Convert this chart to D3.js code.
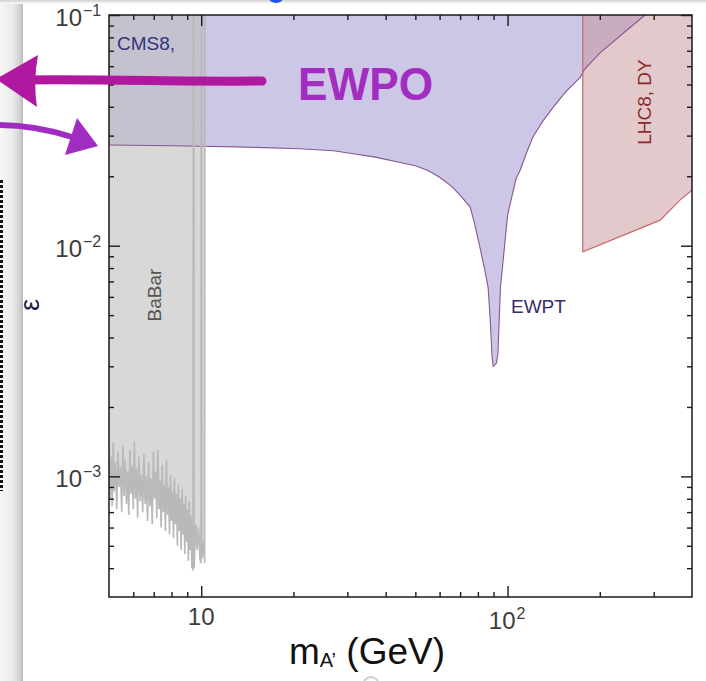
<!DOCTYPE html>
<html>
<head>
<meta charset="utf-8">
<script src="https://cdn.jsdelivr.net/npm/d3@7"></script>
<style>
	body { margin: 0; background: #fff; }
	svg { display: block; font-family: "Liberation Sans", Arial, sans-serif; }
</style>
</head>
<body>
<div id="chart"></div>
<script>

///////////////////////////////////////////////////////////////////////
// data: [ mass (GeV), epsilon ]

const xDomain = [ 5, 400 ];
const yDomain = [ 3e-4, 0.1 ];

const xMajor = [ 10, 100 ];
const xMinor = [ 6, 7, 8, 9, 20, 30, 40, 50, 60, 70, 80, 90, 200, 300 ];
const yMajor = [ 1e-3, 1e-2, 1e-1 ];
const yMinor = [ 4e-4, 5e-4, 6e-4, 7e-4, 8e-4, 9e-4,
	2e-3, 3e-3, 4e-3, 5e-3, 6e-3, 7e-3, 8e-3, 9e-3,
	2e-2, 3e-2, 4e-2, 5e-2, 6e-2, 7e-2, 8e-2, 9e-2 ];
const xTickLabels = [ [ "10", "" ], [ "10", "2" ] ];
const yTickLabels = [ [ "10", "\u22123" ], [ "10", "\u22122" ], [ "10", "\u22121" ] ];

// EWPT: lower edge of the excluded (purple) region
const ewpt = [
	[ 5.0, 0.0273 ], [ 8, 0.0271 ], [ 10, 0.0270 ], [ 13, 0.0268 ], [ 16, 0.0266 ],
	[ 21, 0.0263 ], [ 27, 0.0258 ], [ 31, 0.0251 ], [ 37, 0.0242 ], [ 45, 0.0229 ],
	[ 50, 0.0222 ], [ 55, 0.0212 ], [ 60, 0.0198 ], [ 66, 0.0180 ], [ 71, 0.0162 ],
	[ 75.5, 0.0147 ], [ 78, 0.0125 ], [ 81, 0.0100 ], [ 84, 0.0080 ], [ 86.4, 0.0066 ],
	[ 88, 0.0045 ], [ 89, 0.0033 ], [ 89.8, 0.0030 ], [ 92, 0.0031 ], [ 93, 0.0034 ],
	[ 94.8, 0.0066 ], [ 98.2, 0.0106 ], [ 100, 0.0135 ], [ 102, 0.0152 ], [ 106.6, 0.0195 ],
	[ 110, 0.0213 ], [ 116, 0.0258 ], [ 121, 0.0296 ], [ 130, 0.0345 ], [ 141, 0.0399 ],
	[ 155, 0.0465 ], [ 173, 0.0538 ], [ 178, 0.0580 ], [ 200, 0.0684 ], [ 240, 0.0840 ],
	[ 281, 0.1 ]
];

// LHC8 Drell-Yan: lower edge of the excluded (pink) region
const lhcDY = [
	[ 176, 0.1 ], [ 176, 0.0094 ], [ 315, 0.0129 ], [ 366, 0.0158 ], [ 400, 0.0174 ]
];

// BaBar: lower edge of the excluded (grey) region, with the Upsilon gaps
const babar = [
	[ 5.00, 1.30e-3 ], [ 5.04, 0.80e-3 ], [ 5.08, 1.22e-3 ], [ 5.12, 0.74e-3 ], [ 5.16, 1.40e-3 ],
	[ 5.20, 0.86e-3 ], [ 5.25, 1.15e-3 ], [ 5.30, 0.72e-3 ], [ 5.35, 1.28e-3 ], [ 5.40, 0.90e-3 ],
	[ 5.45, 1.10e-3 ], [ 5.50, 0.70e-3 ], [ 5.55, 1.36e-3 ], [ 5.60, 0.82e-3 ], [ 5.65, 1.18e-3 ],
	[ 5.70, 0.76e-3 ], [ 5.75, 1.05e-3 ], [ 5.80, 0.68e-3 ], [ 5.85, 1.30e-3 ], [ 5.90, 0.84e-3 ],
	[ 5.95, 1.12e-3 ], [ 6.00, 0.72e-3 ], [ 6.05, 1.42e-3 ], [ 6.10, 0.80e-3 ], [ 6.15, 1.08e-3 ],
	[ 6.20, 0.66e-3 ], [ 6.26, 1.22e-3 ], [ 6.32, 0.78e-3 ], [ 6.38, 1.02e-3 ], [ 6.44, 0.70e-3 ],
	[ 6.50, 1.25e-3 ], [ 6.56, 0.76e-3 ], [ 6.62, 1.00e-3 ], [ 6.68, 0.64e-3 ], [ 6.74, 1.15e-3 ],
	[ 6.80, 0.74e-3 ], [ 6.86, 0.98e-3 ], [ 6.92, 0.62e-3 ], [ 6.98, 1.28e-3 ], [ 7.04, 0.80e-3 ],
	[ 7.10, 1.05e-3 ], [ 7.16, 0.66e-3 ], [ 7.22, 1.30e-3 ], [ 7.28, 0.72e-3 ], [ 7.34, 0.96e-3 ],
	[ 7.40, 0.60e-3 ], [ 7.46, 1.12e-3 ], [ 7.52, 0.70e-3 ], [ 7.58, 0.92e-3 ], [ 7.64, 0.58e-3 ],
	[ 7.70, 1.18e-3 ], [ 7.76, 0.68e-3 ], [ 7.82, 0.90e-3 ], [ 7.88, 0.56e-3 ], [ 7.94, 1.02e-3 ],
	[ 8.00, 0.64e-3 ], [ 8.06, 0.86e-3 ], [ 8.12, 0.54e-3 ], [ 8.18, 0.98e-3 ], [ 8.24, 0.62e-3 ],
	[ 8.30, 0.84e-3 ], [ 8.36, 0.50e-3 ], [ 8.42, 0.92e-3 ], [ 8.48, 0.58e-3 ], [ 8.54, 0.80e-3 ],
	[ 8.60, 0.48e-3 ], [ 8.66, 0.88e-3 ], [ 8.72, 0.56e-3 ], [ 8.78, 0.76e-3 ], [ 8.84, 0.46e-3 ],
	[ 8.90, 0.82e-3 ], [ 8.96, 0.52e-3 ], [ 9.02, 0.72e-3 ], [ 9.08, 0.43e-3 ], [ 9.14, 0.78e-3 ],
	[ 9.20, 0.48e-3 ], [ 9.26, 0.68e-3 ], [ 9.32, 0.40e-3 ], [ 9.36, 0.62e-3 ], [ 9.40, 0.39e-3 ],
	[ 9.43, 0.1 ], [ 9.46, 0.1 ], [ 9.48, 0.40e-3 ], [ 9.60, 0.62e-3 ], [ 9.70, 0.48e-3 ],
	[ 9.80, 0.60e-3 ], [ 9.90, 0.44e-3 ], [ 9.98, 0.42e-3 ], [ 10.00, 0.1 ], [ 10.03, 0.1 ],
	[ 10.05, 0.44e-3 ], [ 10.15, 0.52e-3 ], [ 10.26, 0.42e-3 ], [ 10.28, 0.1 ], [ 10.32, 0.1 ]
];

///////////////////////////////////////////////////////////////////////

const width = 706, height = 681;
const frame = { left: 109, right: 692, top: 15, bottom: 597 };

const svg = d3.select( "#chart" )
	.append( "svg" )
		.attr( "width", width )
		.attr( "height", height );

const x = d3.scaleLog().domain( xDomain ).range( [ frame.left, frame.right ] );
const y = d3.scaleLog().domain( yDomain ).range( [ frame.bottom, frame.top ] );

const line = d3.line().x( d => x( d[ 0 ] ) ).y( d => y( d[ 1 ] ) );

const defs = svg.append( "defs" );

defs.append( "clipPath" ).attr( "id", "plot" )
	.append( "rect" )
		.attr( "x", frame.left ).attr( "y", frame.top )
		.attr( "width", frame.right - frame.left )
		.attr( "height", frame.bottom - frame.top );

let shade = defs.append( "linearGradient" ).attr( "id", "shade" )
	.attr( "x1", 0 ).attr( "x2", 1 ).attr( "y1", 0 ).attr( "y2", 0 );
shade.append( "stop" ).attr( "offset", 0 ).attr( "stop-color", "#f6f6f6" );
shade.append( "stop" ).attr( "offset", 0.55 ).attr( "stop-color", "#ebebeb" );
shade.append( "stop" ).attr( "offset", 0.85 ).attr( "stop-color", "#d2d2d2" );
shade.append( "stop" ).attr( "offset", 1 ).attr( "stop-color", "#b8b8b8" );

let topShade = defs.append( "linearGradient" ).attr( "id", "topshade" )
	.attr( "x1", 0 ).attr( "x2", 0 ).attr( "y1", 0 ).attr( "y2", 1 );
topShade.append( "stop" ).attr( "offset", 0 ).attr( "stop-color", "#cfcfcf" );
topShade.append( "stop" ).attr( "offset", 1 ).attr( "stop-color", "#ffffff" );

// slide surroundings: shadow strip on the left, dotted rule, top edge
svg.append( "rect" ).attr( "x", 0 ).attr( "y", 0 ).attr( "width", 23 ).attr( "height", height )
	.attr( "fill", "url(#shade)" );
svg.append( "rect" ).attr( "x", 0 ).attr( "y", 0 ).attr( "width", width ).attr( "height", 4 )
	.attr( "fill", "url(#topshade)" );
svg.append( "line" )
	.attr( "x1", 1.5 ).attr( "x2", 1.5 ).attr( "y1", 180 ).attr( "y2", 491 )
	.attr( "stroke", "#111" ).attr( "stroke-width", 3 ).attr( "stroke-dasharray", "3 2" );
svg.append( "ellipse" ).attr( "cx", 276 ).attr( "cy", -2 ).attr( "rx", 7 ).attr( "ry", 5 )
	.attr( "fill", "#1b57e6" );
svg.append( "path" ).attr( "d", "M364,681 Q371,673 378,681" )
	.attr( "fill", "none" ).attr( "stroke", "#d0d0d0" ).attr( "stroke-width", 2 );

///////////////////////////////////////////////////////////////////////
// regions

const plot = svg.append( "g" ).attr( "clip-path", "url(#plot)" );

// EWPT (purple), closed along the top of the frame
plot.append( "path" )
	.attr( "d", line( ewpt ) + `L${ x( ewpt[ 0 ][ 0 ] ) },${ frame.top - 2 }Z` )
	.attr( "fill", "#cdc7e7" );

// BaBar (grey)
let bb_last = babar[ babar.length - 1 ];
plot.append( "path" )
	.attr( "d", line( babar ) + `L${ x( bb_last[ 0 ] ) },${ frame.top - 2 }L${ frame.left - 2 },${ frame.top - 2 }L${ frame.left - 2 },${ y( babar[ 0 ][ 1 ] ) }Z` )
	.attr( "fill", "#bebebe" )
	.attr( "fill-opacity", 0.6 );

// LHC8 DY (pink)
plot.append( "path" )
	.attr( "d", line( lhcDY ) + `L${ frame.right + 2 },${ frame.top - 2 }Z` )
	.attr( "fill", "#c8929a" )
	.attr( "fill-opacity", 0.5 );

// edges
plot.append( "path" )
	.attr( "d", line( ewpt ) )
	.attr( "fill", "none" )
	.attr( "stroke", "#86588e" )
	.attr( "stroke-width", 1.1 );

plot.append( "path" )
	.attr( "d", line( lhcDY ) )
	.attr( "fill", "none" )
	.attr( "stroke", "#c06c6c" )
	.attr( "stroke-width", 1.2 );

plot.append( "path" )
	.attr( "d", line( babar ) )
	.attr( "fill", "none" )
	.attr( "stroke", "#b9b9b9" )
	.attr( "stroke-width", 1.6 );

///////////////////////////////////////////////////////////////////////
// frame and ticks (all pointing inward)

function ticks( axis, at, values, size )	{
	svg.append( "g" )
		.attr( "transform", at )
		.call( axis.tickValues( values ).tickSize( -size ).tickSizeOuter( 0 ).tickFormat( "" ) )
		.call( g => g.select( ".domain" ).remove() )
		.call( g => g.selectAll( "line" ).attr( "stroke", "#1a1a1a" ).attr( "stroke-width", 1.4 ) );
}

ticks( d3.axisBottom( x ), `translate(0,${ frame.bottom })`, xMajor, 11 );
ticks( d3.axisBottom( x ), `translate(0,${ frame.bottom })`, xMinor, 5 );
ticks( d3.axisTop( x ), `translate(0,${ frame.top })`, xMajor, 11 );
ticks( d3.axisTop( x ), `translate(0,${ frame.top })`, xMinor, 5 );
ticks( d3.axisLeft( y ), `translate(${ frame.left },0)`, yMajor, 11 );
ticks( d3.axisLeft( y ), `translate(${ frame.left },0)`, yMinor, 5 );
ticks( d3.axisRight( y ), `translate(${ frame.right },0)`, yMajor, 11 );
ticks( d3.axisRight( y ), `translate(${ frame.right },0)`, yMinor, 5 );

svg.append( "rect" )
	.attr( "x", frame.left ).attr( "y", frame.top )
	.attr( "width", frame.right - frame.left )
	.attr( "height", frame.bottom - frame.top )
	.attr( "fill", "none" )
	.attr( "stroke", "#1a1a1a" )
	.attr( "stroke-width", 1.5 );

// tick labels
const labelColor = "#3c3c3c";

yMajor.forEach( ( v, i ) => {
	svg.append( "text" )
		.attr( "x", 82 ).attr( "y", y( v ) + 11 )
		.attr( "text-anchor", "end" )
		.attr( "font-size", 24 ).attr( "fill", labelColor )
		.text( yTickLabels[ i ][ 0 ] );
	svg.append( "text" )
		.attr( "x", 83 ).attr( "y", y( v ) + 1 )
		.attr( "font-size", 16 ).attr( "fill", labelColor )
		.text( yTickLabels[ i ][ 1 ] );
} );

xMajor.forEach( ( v, i ) => {
	let sup = xTickLabels[ i ][ 1 ];
	let base = svg.append( "text" )
		.attr( "font-size", 24 ).attr( "fill", labelColor )
		.text( xTickLabels[ i ][ 0 ] );
	if( sup == "" ) {
		base.attr( "x", x( v ) ).attr( "y", 625 ).attr( "text-anchor", "middle" );
	} else {
		base.attr( "x", x( v ) + 8 ).attr( "y", 629 ).attr( "text-anchor", "end" );
		svg.append( "text" )
			.attr( "x", x( v ) + 9 ).attr( "y", 619 )
			.attr( "font-size", 16 ).attr( "fill", labelColor )
			.text( sup );
	}
} );

// axis titles
let xt = svg.append( "text" )
	.attr( "x", 367 ).attr( "y", 664 )
	.attr( "text-anchor", "middle" )
	.attr( "font-size", 37 ).attr( "fill", "#111" );
xt.append( "tspan" ).text( "m" );
xt.append( "tspan" ).attr( "font-size", 20 ).attr( "dy", 3 ).text( "A\u2019" );
xt.append( "tspan" ).attr( "dy", -3 ).text( " (GeV)" );

svg.append( "text" )
	.attr( "transform", "translate(39,305) rotate(-90)" )
	.attr( "text-anchor", "middle" )
	.attr( "font-size", 27 ).attr( "fill", "#1c1c4a" )
	.text( "\u03b5" );

// region labels
svg.append( "text" )
	.attr( "x", 117 ).attr( "y", 50 )
	.attr( "font-size", 19 ).attr( "fill", "#33337f" )
	.text( "CMS8," );

svg.append( "text" )
	.attr( "transform", "translate(161,295) rotate(-90)" )
	.attr( "text-anchor", "middle" )
	.attr( "font-size", 19 ).attr( "fill", "#555" )
	.text( "BaBar" );

svg.append( "text" )
	.attr( "transform", "translate(651,102) rotate(-90)" )
	.attr( "text-anchor", "middle" )
	.attr( "font-size", 19 ).attr( "fill", "#8a2b2b" )
	.text( "LHC8, DY" );

svg.append( "text" )
	.attr( "x", 511 ).attr( "y", 313 )
	.attr( "font-size", 19 ).attr( "fill", "#3b2b6b" )
	.text( "EWPT" );

///////////////////////////////////////////////////////////////////////
// hand-drawn annotation

svg.append( "path" )
	.attr( "d", "M262,81 C190,82 110,79 22,80" )
	.attr( "fill", "none" ).attr( "stroke", "#b0189f" )
	.attr( "stroke-width", 9 ).attr( "stroke-linecap", "round" );
svg.append( "path" )
	.attr( "d", "M-4,79 L38,55 Q33,81 37,107 Z" )
	.attr( "fill", "#b0189f" );

svg.append( "path" )
	.attr( "d", "M-2,125 C25,125 50,130 72,137" )
	.attr( "fill", "none" ).attr( "stroke", "#a02cc2" )
	.attr( "stroke-width", 6 ).attr( "stroke-linecap", "round" );
svg.append( "path" )
	.attr( "d", "M77,118 L98,146 L65,155 Z" )
	.attr( "fill", "#a02cc2" );

svg.append( "text" )
	.attr( "x", 298 ).attr( "y", 100 )
	.attr( "font-size", 47 ).attr( "font-weight", "bold" )
	.attr( "textLength", 135 ).attr( "lengthAdjust", "spacingAndGlyphs" )
	.attr( "fill", "#a22dc0" )
	.text( "EWPO" );

</script>
</body>
</html>
